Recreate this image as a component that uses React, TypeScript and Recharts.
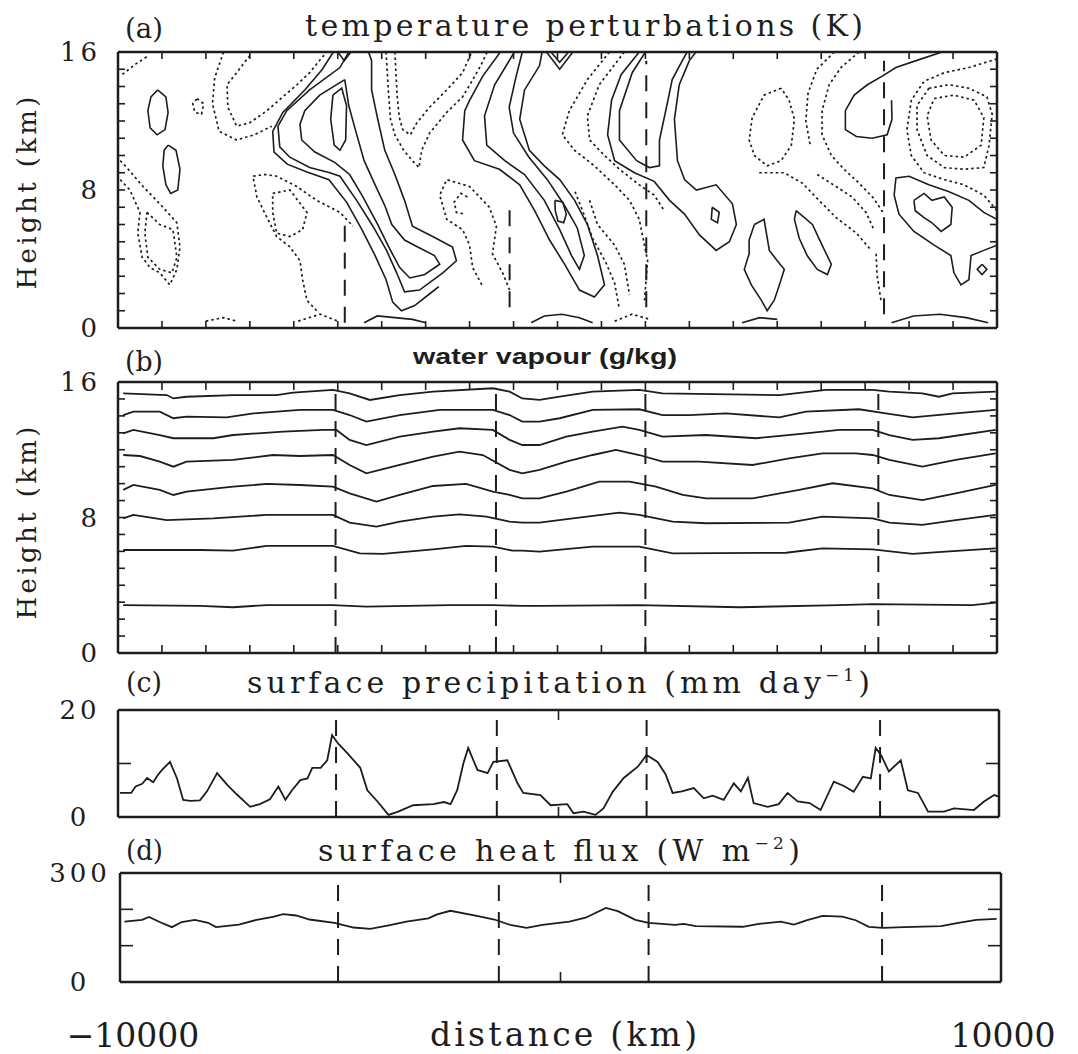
import React from "react";
import { LineChart, Line, XAxis, YAxis, ReferenceLine } from "recharts";

const INK = "#1d1d1d";
const SERIF = "'DejaVu Serif', serif";
const SANS = "'Liberation Sans', Arial, sans-serif";

// axes
const distanceTicks = [-9000, -8000, -7000, -6000, -5000, -4000, -3000, -2000, -1000, 0, 1000, 2000, 3000, 4000, 5000, 6000, 7000, 8000, 9000];
const heightTicks = [1, 2, 3, 4, 5, 6, 7, 8, 9, 10, 11, 12, 13, 14, 15];
const heightLabels = [0, 8, 16];
const precipLabels = [0, 20];
const precipTicks = [10];
const fluxLabels = [0, 300];
const fluxTicks = [100, 200];
const centreTick = [0];
const distanceLabels = [-10000, 10000];

// dashed guides (km)
const guideLines = [-5050, -1400, 2000, 7300];
const guideSegmentsA = [
  [-4840, 0.3, 6.0],
  [-1090, 1.2, 7.0],
  [2020, 1.2, 15.5],
  [7430, 0.8, 15.5],
];

// (a) temperature perturbation contours: [distance km, height km]
const warmContours = [
  [[-9100, 13.8], [-8910, 13.4], [-8860, 12.5], [-8930, 11.5], [-9110, 11.2], [-9270, 11.6], [-9320, 12.6], [-9250, 13.4], [-9100, 13.8]],
  [[-8860, 10.6], [-8680, 10.3], [-8590, 9.2], [-8640, 8.0], [-8800, 7.8], [-8910, 8.3], [-8980, 9.4], [-8950, 10.3], [-8860, 10.6]],
  [[-5100, 16], [-5350, 15.0], [-5750, 13.8], [-6250, 12.5], [-6480, 11.4], [-6450, 10.2], [-6150, 9.5], [-5700, 9.05], [-5200, 8.6], [-4800, 7.3], [-4450, 5.7], [-4150, 4.2], [-3900, 2.8], [-3750, 1.5], [-3550, 1.0], [-3250, 1.3], [-2900, 2.0], [-2700, 2.4]],
  [[-4750, 16], [-4950, 15.1], [-5640, 13.8], [-6160, 12.6], [-6360, 11.7], [-6320, 10.5], [-6090, 9.9], [-5640, 9.3], [-5180, 9.0], [-4950, 8.8], [-4570, 7.4], [-4200, 5.9], [-3890, 4.5], [-3660, 3.2], [-3480, 2.1], [-3140, 2.2], [-2610, 3.2], [-2300, 3.9], [-2390, 4.7], [-2840, 5.3], [-3300, 5.9], [-3480, 7.4], [-3700, 8.9], [-3930, 10.3], [-4090, 12.1], [-4230, 13.8], [-4230, 15.5], [-4300, 16]],
  [[-4840, 14.4], [-5410, 13.5], [-5750, 12.6], [-5860, 11.8], [-5820, 10.9], [-5520, 10.2], [-5070, 9.6], [-4730, 8.9], [-4450, 7.7], [-4110, 6.1], [-3820, 4.6], [-3590, 3.5], [-3360, 2.9], [-3020, 3.1], [-2680, 3.7], [-2800, 4.2], [-3180, 4.7], [-3480, 5.1], [-3770, 6.0], [-3930, 7.1], [-4150, 8.3], [-4400, 9.7], [-4600, 11.5], [-4750, 12.9], [-4840, 14.4]],
  [[-5110, 13.5], [-4910, 13.9], [-4800, 12.9], [-4820, 10.9], [-4950, 10.3], [-5080, 10.6], [-5160, 12.1], [-5110, 13.5]],
  [[-1300, 16], [-1700, 14.6], [-2000, 13.2], [-2110, 12.6], [-2160, 10.9], [-1890, 9.7], [-1320, 9.2], [-860, 8.3], [-520, 6.8], [-180, 5.1], [160, 3.7], [500, 2.2], [840, 1.8], [1070, 2.5], [910, 4.2], [680, 6.0], [390, 7.4], [50, 8.6], [-300, 9.4], [-640, 10.3], [-860, 12.1], [-750, 13.8], [-410, 15.2], [-350, 16]],
  [[-980, 16], [-1430, 14.1], [-1660, 12.3], [-1610, 10.6], [-1200, 9.7], [-750, 8.9], [-300, 7.4], [50, 5.7], [320, 4.2], [500, 3.4], [610, 4.2], [450, 5.8], [160, 7.1], [-230, 8.6], [-650, 9.9], [-1000, 11.3], [-1100, 12.8], [-950, 14.5], [-800, 16]],
  [[-60, 7.4], [120, 7.3], [200, 6.6], [140, 6.1], [10, 6.2], [-50, 6.8], [-60, 7.4]],
  [[-250, 16], [50, 15.0], [350, 16]],
  [[-150, 16], [50, 15.4], [250, 16]],
  [[-5000, 16], [-4850, 15.5], [-4700, 16]],
  [[1860, 16], [1450, 14.7], [1230, 13.2], [1140, 11.2], [1300, 9.7], [1750, 9.0], [2200, 8.5], [2550, 7.4], [2890, 6.6], [3230, 5.4], [3610, 4.5], [3910, 5.0], [4070, 6.0], [3980, 7.2], [3610, 8.3], [3160, 8.0], [2890, 8.6], [2730, 9.7], [2660, 12.1], [2770, 14.1], [3000, 15.5], [3150, 16]],
  [[2000, 16], [1700, 14.8], [1410, 12.6], [1410, 10.9], [1800, 9.7], [2090, 9.3], [2320, 9.4], [2320, 10.9], [2480, 12.8], [2610, 14.4], [2840, 15.5], [2950, 16]],
  [[3520, 7.0], [3680, 6.7], [3640, 6.1], [3500, 6.3], [3520, 7.0]],
  [[4480, 6.0], [4700, 6.3], [4820, 4.5], [5000, 3.9], [5160, 3.4], [5050, 2.5], [4930, 1.6], [4770, 1.0], [4640, 1.6], [4410, 2.5], [4250, 3.4], [4360, 4.3], [4360, 5.1], [4480, 6.0]],
  [[5430, 6.8], [5800, 6.0], [6020, 4.8], [6230, 3.7], [6140, 3.1], [5910, 3.4], [5680, 4.2], [5500, 5.2], [5390, 6.3], [5430, 6.8]],
  [[8750, 16], [8160, 15.5], [7700, 15.1], [7390, 14.6], [7050, 14.1], [6750, 13.5], [6550, 12.6], [6550, 11.5], [6800, 11.1], [7160, 11.0], [7500, 11.2], [7610, 12.1], [7600, 13.2]],
  [[10000, 6.3], [9700, 6.7], [9360, 7.4], [8910, 7.9], [8450, 8.3], [8000, 8.8], [7700, 8.7], [7660, 7.7], [7770, 6.6], [8110, 5.6], [8570, 4.8], [8950, 4.2], [9020, 3.2], [9180, 2.5], [9360, 2.8], [9410, 4.2], [9700, 4.5], [10000, 4.8]],
  [[8110, 7.4], [8340, 7.8], [8520, 7.4], [8800, 7.6], [8980, 7.0], [8950, 6.0], [8730, 5.6], [8520, 6.1], [8340, 6.4], [8140, 6.8], [8110, 7.4]],
  [[9660, 3.7], [9770, 3.4], [9660, 3.1], [9550, 3.4], [9660, 3.7]],
  [[-4400, 0.3], [-4100, 0.7], [-3700, 0.6], [-3300, 0.5], [-3000, 0.3]],
  [[-600, 0.3], [-300, 0.7], [100, 0.8], [500, 0.6], [800, 0.3]],
  [[4200, 0.3], [4600, 0.6], [5000, 0.5]],
  [[7600, 0.3], [8100, 0.7], [8700, 0.8], [9300, 0.6], [9800, 0.3]],
];

const coolContours = [
  [[-8200, 13.3], [-8050, 13.0], [-8100, 12.4], [-8250, 12.5], [-8300, 13.0], [-8200, 13.3]],
  [[-9900, 14.7], [-9600, 15.3], [-9300, 15.8]],
  [[-9950, 9.7], [-9800, 9.3], [-9430, 8.2], [-9050, 7.2], [-8660, 6.1], [-8590, 4.7], [-8660, 3.4], [-8820, 2.5], [-9050, 3.2], [-9270, 3.5], [-9450, 4.1], [-9550, 5.5], [-9500, 6.7], [-9730, 8.0], [-9950, 8.6]],
  [[-9340, 6.7], [-9050, 6.0], [-8750, 5.7], [-8660, 4.1], [-8770, 3.2], [-9050, 3.4], [-9320, 4.1], [-9390, 5.5], [-9340, 6.7]],
  [[-7000, 15.8], [-7300, 14.8], [-7520, 14.1], [-7500, 12.8], [-7300, 11.7], [-7000, 11.9], [-6610, 12.6], [-6250, 13.4], [-5930, 14.1], [-5640, 14.8], [-5450, 15.4], [-5250, 16]],
  [[-7600, 16], [-7800, 14.5], [-7850, 13.0], [-7700, 11.4], [-7300, 10.9], [-6900, 11.2], [-6500, 11.7]],
  [[-5480, 1.0], [-5700, 1.6], [-5800, 2.8], [-5860, 3.9], [-6090, 4.7], [-6390, 5.3], [-6610, 6.4], [-6840, 7.6], [-6930, 8.8], [-6660, 8.9], [-6390, 8.8], [-5930, 8.2], [-5480, 7.4], [-4950, 6.7], [-4650, 5.9]],
  [[-6480, 7.8], [-6090, 8.0], [-5700, 6.7], [-5800, 5.7], [-6090, 5.3], [-6390, 5.5], [-6480, 6.7], [-6480, 7.8]],
  [[-3900, 16], [-3850, 13.8], [-3800, 12.1], [-3700, 11.2], [-3500, 10.3], [-3300, 9.7], [-3150, 9.3], [-3090, 10.3], [-2910, 11.3], [-2520, 12.5], [-2160, 13.4], [-1950, 14.3], [-1750, 15.2], [-1600, 16]],
  [[-3700, 16], [-3650, 13.5], [-3600, 12.2], [-3520, 11.5], [-3350, 11.2], [-3200, 11.9], [-2910, 12.8], [-2520, 13.8], [-2160, 14.8], [-1950, 16]],
  [[-2050, 7.6], [-2200, 7.8], [-2350, 7.3], [-2300, 6.7], [-2100, 6.6]],
  [[-1090, 2.2], [-1250, 3.2], [-1480, 4.3], [-1390, 5.9], [-1550, 7.0], [-2000, 8.2], [-2520, 8.6], [-2680, 7.7], [-2520, 6.3], [-2160, 5.7], [-2000, 4.8], [-1930, 3.5], [-1700, 2.4]],
  [[1180, 16], [680, 14.4], [270, 12.6], [110, 11.2], [390, 10.3], [840, 9.4], [1300, 8.3], [1640, 7.4], [1860, 6.3], [2050, 3.9], [1980, 1.6]],
  [[1520, 16], [950, 14.1], [680, 12.3], [730, 10.9], [1070, 10.0], [1410, 9.2], [1860, 8.3], [2200, 7.7], [2430, 6.8]],
  [[730, 7.4], [910, 6.0], [1300, 4.8], [1520, 3.7], [1640, 1.9]],
  [[400, 7.9], [600, 6.6], [800, 5.2], [1100, 3.8], [1300, 2.6], [1400, 1.2]],
  [[5090, 13.9], [4700, 13.5], [4430, 12.2], [4360, 10.9], [4480, 10.0], [4770, 9.4], [5090, 9.7], [5320, 10.6], [5390, 12.1], [5270, 13.2], [5090, 13.9]],
  [[6860, 16], [6450, 15.1], [6180, 14.1], [6020, 12.6], [6020, 11.2], [6230, 10.0], [6520, 9.2], [6860, 8.4], [7200, 7.5], [7430, 6.6]],
  [[6300, 16], [5900, 15.0], [5700, 13.6], [5650, 12.0], [5750, 10.6]],
  [[4590, 9.0], [5160, 9.0], [5570, 8.4], [5950, 7.4], [6340, 6.4], [6800, 5.5], [7140, 4.5]],
  [[5910, 8.9], [6340, 8.2], [6700, 7.6], [7020, 6.7], [7200, 5.7]],
  [[7250, 4.3], [7270, 3.1], [7360, 1.6]],
  [[10000, 15.6], [9360, 15.1], [8800, 14.8], [8340, 14.3], [8050, 13.2], [7950, 11.5], [8050, 10.0], [8340, 9.0], [8800, 8.6], [9250, 8.3], [9700, 7.7], [10000, 6.8]],
  [[8450, 13.9], [8910, 14.1], [9360, 13.9], [9770, 13.4], [9890, 12.4], [9820, 10.6], [9700, 9.3], [9250, 9.2], [8800, 9.3], [8410, 10.0], [8180, 11.5], [8180, 12.9], [8450, 13.9]],
  [[8570, 13.3], [9020, 13.5], [9480, 13.2], [9700, 12.2], [9640, 10.6], [9250, 9.9], [8800, 10.0], [8500, 10.9], [8410, 12.3], [8570, 13.3]],
  [[-8000, 0.4], [-7600, 0.6], [-7300, 0.4]],
  [[-5900, 0.4], [-5400, 0.8], [-5000, 0.4]],
  [[1300, 0.4], [1700, 0.8], [2100, 0.5]],
];

// (b) water vapour isolines: [distance km, height km]
const vapour1 = [[-9880, 15.33], [-8890, 15.23], [-8740, 15.03], [-8440, 15.13], [-7380, 15.23], [-6390, 15.23], [-6020, 15.37], [-5110, 15.53], [-4730, 15.33], [-4270, 14.94], [-3590, 15.23], [-2830, 15.43], [-1470, 15.63], [-1090, 15.43], [-800, 15.03], [-410, 14.94], [50, 15.13], [800, 15.43], [1860, 15.53], [2390, 15.33], [5050, 15.23], [6110, 15.53], [7170, 15.53], [7550, 15.43], [8300, 15.33], [8680, 15.13], [8990, 15.33], [9970, 15.43]];
const vapour2 = [[-9880, 14.05], [-9650, 14.25], [-9050, 14.25], [-8740, 13.86], [-8440, 13.95], [-7530, 13.91], [-6920, 14.15], [-5860, 14.35], [-5110, 14.35], [-4730, 14.05], [-4350, 13.66], [-3590, 14.05], [-2680, 14.35], [-1470, 14.35], [-1090, 14.05], [-800, 13.66], [-410, 13.66], [50, 13.86], [800, 14.35], [1860, 14.39], [2390, 14.05], [3000, 14.05], [3830, 14.15], [5050, 13.91], [5650, 14.25], [6860, 14.39], [7470, 14.15], [8080, 13.91], [9060, 14.15], [9970, 14.35]];
const vapour3 = [[-9880, 12.97], [-9650, 13.17], [-9050, 12.87], [-8740, 12.68], [-7830, 12.68], [-7380, 12.87], [-6240, 13.07], [-5330, 13.17], [-5030, 13.17], [-4730, 12.58], [-4350, 12.28], [-3590, 12.77], [-2830, 13.07], [-2230, 13.27], [-1470, 13.17], [-1090, 12.58], [-800, 12.28], [-410, 12.28], [200, 12.77], [800, 13.07], [1480, 13.36], [1860, 13.17], [2390, 12.77], [3380, 12.87], [4520, 12.68], [5650, 12.97], [6410, 13.17], [7170, 13.17], [7550, 12.87], [8080, 12.58], [8680, 12.68], [9970, 13.17]];
const vapour4 = [[-9880, 11.69], [-9500, 11.63], [-9050, 11.3], [-8740, 11.0], [-8440, 11.3], [-7380, 11.4], [-6470, 11.69], [-5860, 11.63], [-5110, 11.69], [-4730, 11.1], [-4350, 10.61], [-3590, 11.1], [-2830, 11.59], [-2230, 11.89], [-1700, 11.69], [-1090, 10.81], [-800, 10.61], [-410, 10.81], [200, 11.3], [800, 11.69], [1330, 11.99], [1860, 11.69], [2390, 11.3], [3230, 11.3], [4440, 11.1], [5270, 11.49], [6030, 11.79], [6790, 11.79], [7170, 11.69], [7550, 11.4], [8300, 11.0], [9060, 11.4], [9970, 11.79]];
const vapour5 = [[-9880, 9.63], [-9650, 9.92], [-9050, 9.63], [-8740, 9.33], [-8440, 9.53], [-7380, 9.82], [-6620, 9.98], [-5860, 9.92], [-5110, 9.82], [-4730, 9.43], [-4120, 8.94], [-3590, 9.33], [-2830, 9.86], [-2080, 9.98], [-1470, 9.53], [-1090, 9.33], [-800, 9.13], [-410, 9.13], [200, 9.53], [950, 10.12], [1640, 10.12], [2240, 9.82], [2850, 9.33], [3380, 9.13], [4440, 9.13], [5500, 9.63], [6260, 10.02], [7170, 9.72], [7550, 9.33], [8300, 9.03], [9060, 9.43], [9970, 9.92]];
const vapour6 = [[-9880, 7.95], [-9650, 8.15], [-8890, 7.85], [-7830, 7.95], [-7230, 8.05], [-6620, 8.15], [-5110, 8.15], [-4730, 7.7], [-4120, 7.46], [-3590, 7.76], [-2830, 8.05], [-2230, 8.19], [-1620, 8.05], [-1090, 7.76], [-800, 7.7], [-410, 7.7], [350, 7.95], [1410, 8.29], [1860, 8.15], [2620, 7.76], [3380, 7.66], [5270, 7.7], [6030, 8.05], [7170, 7.95], [7550, 7.7], [8300, 7.56], [9060, 7.85], [9970, 8.15]];
const vapour7 = [[-9880, 6.08], [-8890, 6.08], [-8140, 6.08], [-7380, 6.04], [-6620, 6.32], [-5110, 6.32], [-4500, 5.88], [-3970, 5.85], [-2830, 6.12], [-2080, 6.32], [-1470, 6.28], [-1020, 6.04], [-800, 6.04], [-410, 5.98], [800, 6.28], [1860, 6.28], [2620, 5.88], [5200, 5.92], [6030, 6.18], [7170, 6.12], [8080, 5.85], [8830, 5.98], [9970, 6.18]];
const vapour8 = [[-9880, 2.83], [-8140, 2.78], [-7380, 2.7], [-6620, 2.83], [-5110, 2.83], [-4350, 2.74], [-2460, 2.83], [-1470, 2.83], [-800, 2.78], [-410, 2.78], [1860, 2.83], [4140, 2.7], [6410, 2.83], [7170, 2.89], [9440, 2.83], [9970, 2.97]];
const vapourLines = [vapour1, vapour2, vapour3, vapour4, vapour5, vapour6, vapour7, vapour8];

// (c) surface precipitation, mm/day
const precipitation = [[-9955, 4.5], [-9700, 4.5], [-9600, 5.7], [-9450, 6.2], [-9340, 7.3], [-9200, 6.5], [-9100, 7.8], [-9000, 8.8], [-8820, 10.3], [-8660, 7.2], [-8520, 3.2], [-8360, 3.0], [-8140, 3.1], [-7980, 4.8], [-7750, 8.2], [-7520, 6.0], [-7300, 4.2], [-7000, 1.9], [-6780, 2.4], [-6550, 3.3], [-6360, 5.7], [-6200, 3.2], [-6050, 5.0], [-5860, 6.9], [-5700, 7.2], [-5590, 9.2], [-5400, 9.2], [-5250, 10.6], [-5140, 15.3], [-5000, 13.7], [-4800, 12.0], [-4500, 9.2], [-4340, 5.0], [-4110, 2.9], [-3860, 0.4], [-3640, 1.0], [-3300, 2.2], [-2840, 2.4], [-2600, 2.8], [-2450, 2.4], [-2300, 5.0], [-2160, 10.0], [-2050, 12.9], [-1840, 8.8], [-1610, 8.2], [-1480, 10.3], [-1160, 10.6], [-930, 6.3], [-800, 4.5], [-410, 4.1], [-180, 2.2], [200, 2.4], [340, 0.7], [570, 1.0], [840, 0.4], [1020, 1.6], [1230, 4.7], [1480, 7.3], [1800, 9.4], [2000, 11.6], [2250, 10.3], [2430, 8.0], [2590, 4.5], [2800, 4.8], [3070, 5.4], [3300, 3.5], [3500, 4.0], [3750, 3.2], [3980, 6.3], [4140, 4.8], [4300, 7.3], [4430, 2.6], [4750, 1.9], [5000, 2.4], [5200, 4.5], [5430, 2.9], [5700, 2.6], [5950, 1.3], [6250, 6.6], [6480, 5.8], [6700, 4.7], [6910, 7.5], [7090, 7.2], [7200, 12.9], [7320, 11.6], [7500, 8.5], [7770, 10.6], [7930, 5.0], [8160, 4.5], [8390, 1.0], [8750, 1.0], [8980, 1.6], [9430, 1.3], [9660, 2.9], [9890, 4.1], [10000, 3.8]];

// (d) surface heat flux, W/m2
const heatFlux = [[-9900, 166], [-9500, 171], [-9340, 179], [-9100, 165], [-8820, 151], [-8600, 165], [-8300, 171], [-8000, 163], [-7820, 151], [-7300, 158], [-6900, 171], [-6500, 180], [-6300, 187], [-6000, 183], [-5700, 172], [-5130, 163], [-4700, 150], [-4320, 146], [-3900, 156], [-3500, 166], [-3000, 175], [-2800, 186], [-2500, 196], [-1900, 182], [-1500, 172], [-1140, 157], [-770, 149], [-410, 157], [200, 166], [570, 177], [1030, 204], [1300, 195], [1700, 171], [2000, 163], [2600, 157], [2800, 160], [3070, 154], [4140, 152], [4500, 160], [5000, 166], [5300, 158], [5600, 170], [5950, 182], [6400, 180], [6700, 170], [7000, 152], [7320, 149], [7800, 151], [8640, 154], [9000, 162], [9440, 171], [9900, 174]];

const pts = (pairs: number[][]) => pairs.map(([x, y]) => ({ x, y }));

const NoTick = () => <g />;

const NumTick = (props: any) => {
  const { y, payload, at, anchor } = props;
  return (
    <text x={at} y={y} dy={9} textAnchor={anchor} fontFamily={SERIF} fontSize={26} letterSpacing={4} fill={INK}>
      {payload.value}
    </text>
  );
};

const DistTick = (props: any) => {
  const { x, y, payload } = props;
  const v = payload.value;
  const label = v < 0 ? "\u2212" + Math.abs(v) : String(v);
  return (
    <text x={x + (v < 0 ? 13 : 2)} y={y + 65} textAnchor="middle" fontFamily={SERIF} fontSize={33} fill={INK}>
      {label}
    </text>
  );
};

interface PanelCfg {
  top: number;
  bottom: number;
  left: number;
  right: number;
  y: [number, number];
  yLabels: number[];
  yTicks: number[];
  yTickLen: number;
  xTicks: number[];
  xTickLen: number;
  labelAt: number;
  labelAnchor: string;
  distanceAxis?: boolean;
}

const frameLine = { stroke: INK, strokeWidth: 2.5 };
const tickStroke = { stroke: INK, strokeWidth: 1.6 };

function panel(cfg: PanelCfg, content: React.ReactNode) {
  const pad = 20;
  const extra = cfg.distanceAxis ? 72 : 0;
  const bottomPad = cfg.distanceAxis ? 0 : pad;
  const h = cfg.bottom - cfg.top + pad + bottomPad + extra;
  return (
    <div style={{ position: "absolute", left: 0, top: cfg.top - pad }}>
      <LineChart width={1078} height={h} margin={{ top: pad, bottom: bottomPad, left: 0, right: 1078 - cfg.right }}>
        <XAxis xAxisId="xb" type="number" dataKey="x" domain={[-10000, 10000]} allowDataOverflow orientation="bottom" mirror ticks={cfg.xTicks} interval={0} tick={<NoTick />} tickSize={cfg.xTickLen} axisLine={frameLine} tickLine={tickStroke} />
        <XAxis xAxisId="xt" type="number" dataKey="x" domain={[-10000, 10000]} allowDataOverflow orientation="top" mirror ticks={cfg.xTicks} interval={0} tick={<NoTick />} tickSize={cfg.xTickLen} axisLine={frameLine} tickLine={tickStroke} />
        {cfg.distanceAxis && (
          <XAxis xAxisId="xl" type="number" dataKey="x" domain={[-10000, 10000]} allowDataOverflow orientation="bottom" height={extra} ticks={distanceLabels} interval={0} tickSize={0} tickMargin={0} axisLine={false} tickLine={false} tick={<DistTick />} />
        )}
        <YAxis yAxisId="yl" type="number" domain={cfg.y} allowDataOverflow orientation="left" width={cfg.left} ticks={cfg.yLabels} interval={0} axisLine={false} tickLine={false} tick={<NumTick at={cfg.labelAt} anchor={cfg.labelAnchor} />} />
        <YAxis yAxisId="ym" type="number" domain={cfg.y} allowDataOverflow orientation="left" mirror ticks={cfg.yTicks} interval={0} tick={<NoTick />} tickSize={cfg.yTickLen} axisLine={frameLine} tickLine={tickStroke} />
        <YAxis yAxisId="yr" type="number" domain={cfg.y} allowDataOverflow orientation="right" mirror ticks={cfg.yTicks} interval={0} tick={<NoTick />} tickSize={cfg.yTickLen} axisLine={frameLine} tickLine={tickStroke} />
        {content}
      </LineChart>
    </div>
  );
}

function series(key: string, data: number[][], dashed: boolean, width: number) {
  return (
    <Line
      key={key}
      data={pts(data)}
      dataKey="y"
      xAxisId="xb"
      yAxisId="ym"
      type="linear"
      dot={false}
      activeDot={false}
      stroke={INK}
      strokeWidth={width}
      strokeDasharray={dashed ? "2.5 3" : undefined}
      isAnimationActive={false}
    />
  );
}

function guides() {
  return guideLines.map((g) => (
    <ReferenceLine key={"g" + g} x={g} xAxisId="xb" yAxisId="ym" stroke={INK} strokeWidth={2} strokeDasharray="16 11" />
  ));
}

export default function App() {
  const txt = { fontFamily: SERIF, fill: INK };
  return (
    <div style={{ position: "absolute", left: 0, top: 0, width: 1078, height: 1054, background: "#fff", overflow: "hidden" }}>
      {panel(
        { top: 52, bottom: 328, left: 118, right: 997, y: [0, 16], yLabels: heightLabels, yTicks: heightTicks, yTickLen: 7, xTicks: distanceTicks, xTickLen: 7, labelAt: 101, labelAnchor: "end" },
        [
          ...guideSegmentsA.map(([x, y0, y1]) => (
            <ReferenceLine key={"ga" + x} segment={[{ x, y: y0 }, { x, y: y1 }]} xAxisId="xb" yAxisId="ym" stroke={INK} strokeWidth={2} strokeDasharray="16 11" />
          )),
          ...warmContours.map((c, i) => series("w" + i, c, false, 1.6)),
          ...coolContours.map((c, i) => series("c" + i, c, true, 1.7)),
        ]
      )}
      {panel(
        { top: 382, bottom: 653, left: 118, right: 997, y: [0, 16], yLabels: heightLabels, yTicks: heightTicks, yTickLen: 7, xTicks: distanceTicks, xTickLen: 8, labelAt: 101, labelAnchor: "end" },
        [...guides(), ...vapourLines.map((l, i) => series("v" + i, l, false, 1.8))]
      )}
      {panel(
        { top: 710, bottom: 817, left: 118, right: 999, y: [0, 20], yLabels: precipLabels, yTicks: precipTicks, yTickLen: 13, xTicks: centreTick, xTickLen: 10, labelAt: 80, labelAnchor: "middle" },
        [...guides(), series("p", precipitation, false, 1.8)]
      )}
      {panel(
        { top: 873, bottom: 982, left: 120, right: 1001, y: [0, 300], yLabels: fluxLabels, yTicks: fluxTicks, yTickLen: 13, xTicks: centreTick, xTickLen: 10, labelAt: 80, labelAnchor: "middle", distanceAxis: true },
        [...guides(), series("f", heatFlux, false, 1.8)]
      )}
      <svg width={1078} height={1054} style={{ position: "absolute", left: 0, top: 0, pointerEvents: "none" }}>
        <text x={125} y={38} fontSize={28} textLength={38} lengthAdjust="spacingAndGlyphs" {...txt}>(a)</text>
        <text x={305} y={36} fontSize={30} textLength={558} lengthAdjust="spacing" {...txt}>temperature perturbations (K)</text>
        <text x={125} y={371} fontSize={28} textLength={38} lengthAdjust="spacingAndGlyphs" {...txt}>(b)</text>
        <text x={413} y={364} fontSize={22} fontWeight="bold" fontFamily={SANS} fill={INK} textLength={264} lengthAdjust="spacingAndGlyphs">water vapour (g/kg)</text>
        <text x={126} y={692} fontSize={28} textLength={36} lengthAdjust="spacingAndGlyphs" {...txt}>(c)</text>
        <text x={247} y={693} fontSize={30} textLength={623} lengthAdjust="spacing" {...txt}>
          surface precipitation (mm day<tspan fontSize={17} dy={-12}>{"\u22121"}</tspan><tspan dy={12}>)</tspan>
        </text>
        <text x={126} y={860} fontSize={28} textLength={37} lengthAdjust="spacingAndGlyphs" {...txt}>(d)</text>
        <text x={318} y={861} fontSize={30} textLength={482} lengthAdjust="spacing" {...txt}>
          surface heat flux (W m<tspan fontSize={17} dy={-12}>{"\u22122"}</tspan><tspan dy={12}>)</tspan>
        </text>
        <text x={430} y={1046} fontSize={33} textLength={267} lengthAdjust="spacing" {...txt}>distance (km)</text>
        <text x={27} y={193} fontSize={26} textLength={193} lengthAdjust="spacing" textAnchor="middle" dominantBaseline="central" transform="rotate(-90 27 193)" {...txt}>Height (km)</text>
        <text x={27} y={523} fontSize={26} textLength={193} lengthAdjust="spacing" textAnchor="middle" dominantBaseline="central" transform="rotate(-90 27 523)" {...txt}>Height (km)</text>
      </svg>
    </div>
  );
}
